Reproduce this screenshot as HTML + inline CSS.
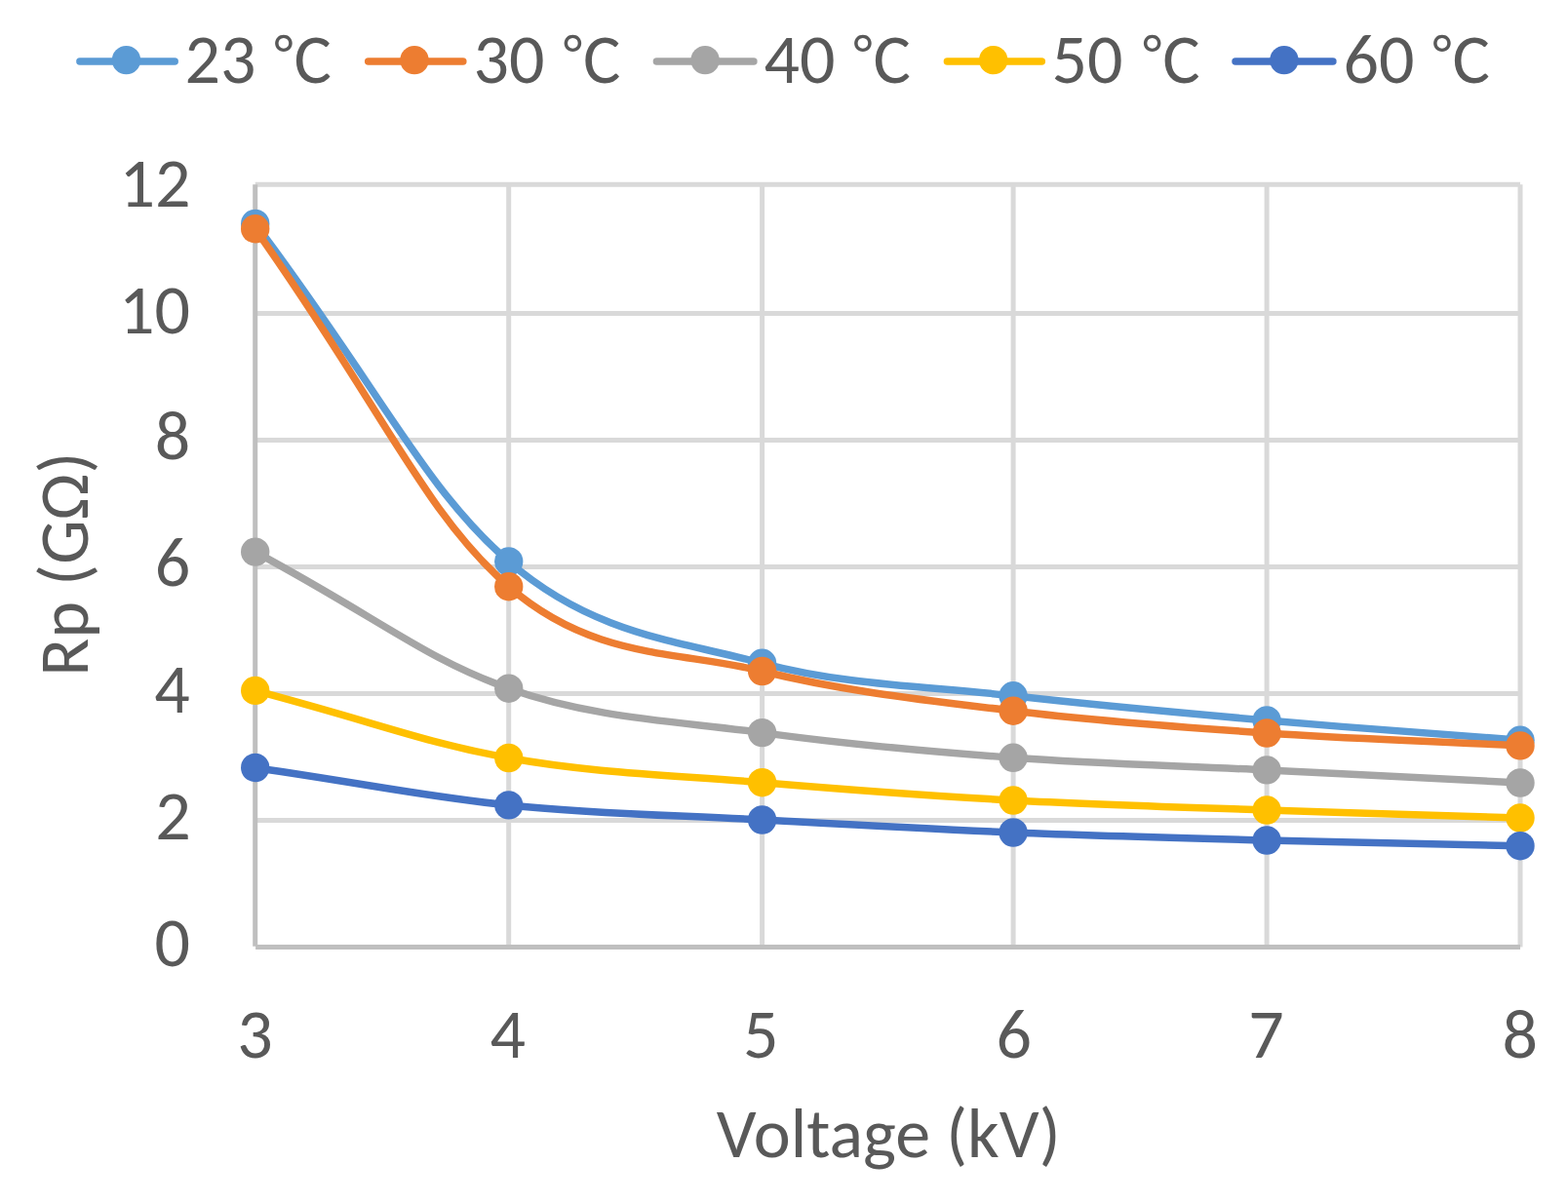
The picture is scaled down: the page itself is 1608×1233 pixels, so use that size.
<!DOCTYPE html>
<html><head><meta charset="utf-8"><title>Rp vs Voltage</title>
<style>
html,body{margin:0;padding:0;background:#fff;}
body{width:1608px;height:1233px;overflow:hidden;}
svg{display:block;}
text{font-family:Carlito, 'Liberation Sans', sans-serif;font-size:72px;fill:#595959;}
</style></head><body>
<svg width="1608" height="1233" viewBox="0 0 1608 1233">
<rect width="1608" height="1233" fill="#fff"/>
<line x1="261.7" y1="189.3" x2="1559" y2="189.3" stroke="#D9D9D9" stroke-width="5"/>
<line x1="261.7" y1="321.4" x2="1559" y2="321.4" stroke="#D9D9D9" stroke-width="5"/>
<line x1="261.7" y1="451.4" x2="1559" y2="451.4" stroke="#D9D9D9" stroke-width="5"/>
<line x1="261.7" y1="581.4" x2="1559" y2="581.4" stroke="#D9D9D9" stroke-width="5"/>
<line x1="261.7" y1="711.4" x2="1559" y2="711.4" stroke="#D9D9D9" stroke-width="5"/>
<line x1="261.7" y1="841.4" x2="1559" y2="841.4" stroke="#D9D9D9" stroke-width="5"/>
<line x1="521.7" y1="189.3" x2="521.7" y2="971.4" stroke="#D9D9D9" stroke-width="5"/>
<line x1="781.6" y1="189.3" x2="781.6" y2="971.4" stroke="#D9D9D9" stroke-width="5"/>
<line x1="1039.1" y1="189.3" x2="1039.1" y2="971.4" stroke="#D9D9D9" stroke-width="5"/>
<line x1="1299.1" y1="189.3" x2="1299.1" y2="971.4" stroke="#D9D9D9" stroke-width="5"/>
<line x1="1559" y1="189.3" x2="1559" y2="971.4" stroke="#D9D9D9" stroke-width="5"/>
<line x1="261.7" y1="189.3" x2="261.7" y2="970.7" stroke="#BFBFBF" stroke-width="5"/>
<line x1="262.1" y1="971.4" x2="1559" y2="971.4" stroke="#BFBFBF" stroke-width="5"/>
<path d="M261.7 229.4 C391.7 402.7 435.05 500.85 521.7 576 C608.35 651.15 695.37 657.33 781.6 680.3 C867.83 703.27 952.85 704.02 1039.1 713.8 C1125.35 723.58 1212.45 731.42 1299.1 739 C1385.75 746.58 1429.05 749.15 1559 759.3" fill="none" stroke="#5B9BD5" stroke-width="7.5" stroke-linejoin="round" stroke-linecap="round"/>
<circle cx="261.7" cy="229.4" r="14.7" fill="#5B9BD5"/>
<circle cx="521.7" cy="576" r="14.7" fill="#5B9BD5"/>
<circle cx="781.6" cy="680.3" r="14.7" fill="#5B9BD5"/>
<circle cx="1039.1" cy="713.8" r="14.7" fill="#5B9BD5"/>
<circle cx="1299.1" cy="739" r="14.7" fill="#5B9BD5"/>
<circle cx="1559" cy="759.3" r="14.7" fill="#5B9BD5"/>
<path d="M261.7 234.8 C391.7 418.25 435.05 526.08 521.7 601.7 C608.35 677.32 695.37 667.25 781.6 688.5 C867.83 709.75 952.85 718.62 1039.1 729.2 C1125.35 739.78 1212.45 746.05 1299.1 752 C1385.75 757.95 1429.05 758.45 1559 764.9" fill="none" stroke="#ED7D31" stroke-width="7.5" stroke-linejoin="round" stroke-linecap="round"/>
<circle cx="261.7" cy="234.8" r="14.7" fill="#ED7D31"/>
<circle cx="521.7" cy="601.7" r="14.7" fill="#ED7D31"/>
<circle cx="781.6" cy="688.5" r="14.7" fill="#ED7D31"/>
<circle cx="1039.1" cy="729.2" r="14.7" fill="#ED7D31"/>
<circle cx="1299.1" cy="752" r="14.7" fill="#ED7D31"/>
<circle cx="1559" cy="764.9" r="14.7" fill="#ED7D31"/>
<path d="M261.7 566.1 C391.7 636.15 435.05 675.28 521.7 706.2 C608.35 737.12 695.37 739.75 781.6 751.6 C867.83 763.45 952.85 770.92 1039.1 777.3 C1125.35 783.68 1212.45 785.62 1299.1 789.9 C1385.75 794.18 1429.05 796.45 1559 803" fill="none" stroke="#A5A5A5" stroke-width="7.5" stroke-linejoin="round" stroke-linecap="round"/>
<circle cx="261.7" cy="566.1" r="14.7" fill="#A5A5A5"/>
<circle cx="521.7" cy="706.2" r="14.7" fill="#A5A5A5"/>
<circle cx="781.6" cy="751.6" r="14.7" fill="#A5A5A5"/>
<circle cx="1039.1" cy="777.3" r="14.7" fill="#A5A5A5"/>
<circle cx="1299.1" cy="789.9" r="14.7" fill="#A5A5A5"/>
<circle cx="1559" cy="803" r="14.7" fill="#A5A5A5"/>
<path d="M261.7 708.4 C391.7 742.95 435.05 761.78 521.7 777.5 C608.35 793.22 695.37 795.45 781.6 802.7 C867.83 809.95 952.85 816.28 1039.1 821 C1125.35 825.72 1212.45 828 1299.1 831 C1385.75 834 1429.05 835 1559 839" fill="none" stroke="#FFC000" stroke-width="7.5" stroke-linejoin="round" stroke-linecap="round"/>
<circle cx="261.7" cy="708.4" r="14.7" fill="#FFC000"/>
<circle cx="521.7" cy="777.5" r="14.7" fill="#FFC000"/>
<circle cx="781.6" cy="802.7" r="14.7" fill="#FFC000"/>
<circle cx="1039.1" cy="821" r="14.7" fill="#FFC000"/>
<circle cx="1299.1" cy="831" r="14.7" fill="#FFC000"/>
<circle cx="1559" cy="839" r="14.7" fill="#FFC000"/>
<path d="M261.7 787.5 C391.7 806.7 435.05 816.98 521.7 825.9 C608.35 834.82 695.37 836.32 781.6 841 C867.83 845.68 952.85 850.5 1039.1 854 C1125.35 857.5 1212.45 859.72 1299.1 862 C1385.75 864.28 1429.05 864.85 1559 867.7" fill="none" stroke="#4472C4" stroke-width="7.5" stroke-linejoin="round" stroke-linecap="round"/>
<circle cx="261.7" cy="787.5" r="14.7" fill="#4472C4"/>
<circle cx="521.7" cy="825.9" r="14.7" fill="#4472C4"/>
<circle cx="781.6" cy="841" r="14.7" fill="#4472C4"/>
<circle cx="1039.1" cy="854" r="14.7" fill="#4472C4"/>
<circle cx="1299.1" cy="862" r="14.7" fill="#4472C4"/>
<circle cx="1559" cy="867.7" r="14.7" fill="#4472C4"/>
<line x1="81.9" y1="63" x2="179.2" y2="63" stroke="#5B9BD5" stroke-width="7.5" stroke-linecap="round"/>
<circle cx="129.5" cy="61.65" r="14.7" fill="#5B9BD5"/>
<line x1="377.7" y1="63" x2="474.8" y2="63" stroke="#ED7D31" stroke-width="7.5" stroke-linecap="round"/>
<circle cx="425" cy="61.65" r="14.7" fill="#ED7D31"/>
<line x1="673.4" y1="63" x2="772.9" y2="63" stroke="#A5A5A5" stroke-width="7.5" stroke-linecap="round"/>
<circle cx="723.1" cy="61.65" r="14.7" fill="#A5A5A5"/>
<line x1="971.4" y1="63" x2="1068.3" y2="63" stroke="#FFC000" stroke-width="7.5" stroke-linecap="round"/>
<circle cx="1018.7" cy="61.65" r="14.7" fill="#FFC000"/>
<line x1="1267" y1="63" x2="1366.9" y2="63" stroke="#4472C4" stroke-width="7.5" stroke-linecap="round"/>
<circle cx="1316.9" cy="61.65" r="14.7" fill="#4472C4"/>
<text><tspan x="189.6" y="84.5" textLength="89.27" lengthAdjust="spacingAndGlyphs">23 </tspan><tspan x="281.2" y="75.3" font-size="57" textLength="19.33" lengthAdjust="spacingAndGlyphs">°</tspan><tspan x="301.4" y="84.5" textLength="38.39" lengthAdjust="spacingAndGlyphs">C</tspan></text>
<text><tspan x="485.4" y="84.5" textLength="89.27" lengthAdjust="spacingAndGlyphs">30 </tspan><tspan x="577.8" y="75.3" font-size="57" textLength="19.33" lengthAdjust="spacingAndGlyphs">°</tspan><tspan x="598" y="84.5" textLength="38.39" lengthAdjust="spacingAndGlyphs">C</tspan></text>
<text><tspan x="783.6" y="84.5" textLength="89.27" lengthAdjust="spacingAndGlyphs">40 </tspan><tspan x="875.2" y="75.3" font-size="57" textLength="19.33" lengthAdjust="spacingAndGlyphs">°</tspan><tspan x="895.4" y="84.5" textLength="38.39" lengthAdjust="spacingAndGlyphs">C</tspan></text>
<text><tspan x="1078.6" y="84.5" textLength="89.27" lengthAdjust="spacingAndGlyphs">50 </tspan><tspan x="1172" y="75.3" font-size="57" textLength="19.33" lengthAdjust="spacingAndGlyphs">°</tspan><tspan x="1192.2" y="84.5" textLength="38.39" lengthAdjust="spacingAndGlyphs">C</tspan></text>
<text><tspan x="1377.6" y="84.5" textLength="89.27" lengthAdjust="spacingAndGlyphs">60 </tspan><tspan x="1469.2" y="75.3" font-size="57" textLength="19.33" lengthAdjust="spacingAndGlyphs">°</tspan><tspan x="1489.4" y="84.5" textLength="38.39" lengthAdjust="spacingAndGlyphs">C</tspan></text>
<text x="176.7" y="991" text-anchor="middle" textLength="36.5" lengthAdjust="spacingAndGlyphs">0</text>
<text x="177.5" y="861.1" text-anchor="middle" textLength="36.5" lengthAdjust="spacingAndGlyphs">2</text>
<text x="176.4" y="731.2" text-anchor="middle" textLength="36.5" lengthAdjust="spacingAndGlyphs">4</text>
<text x="176.9" y="601.3" text-anchor="middle" textLength="36.5" lengthAdjust="spacingAndGlyphs">6</text>
<text x="176.9" y="471.4" text-anchor="middle" textLength="36.5" lengthAdjust="spacingAndGlyphs">8</text>
<text x="158.5" y="341.5" text-anchor="middle" textLength="72.98" lengthAdjust="spacingAndGlyphs">10</text>
<text x="159" y="211.6" text-anchor="middle" textLength="72.98" lengthAdjust="spacingAndGlyphs">12</text>
<text x="261.4" y="1085" text-anchor="middle" textLength="36.5" lengthAdjust="spacingAndGlyphs">3</text>
<text x="520.7" y="1085" text-anchor="middle" textLength="36.5" lengthAdjust="spacingAndGlyphs">4</text>
<text x="780.3" y="1085" text-anchor="middle" textLength="36.5" lengthAdjust="spacingAndGlyphs">5</text>
<text x="1039.7" y="1085" text-anchor="middle" textLength="36.5" lengthAdjust="spacingAndGlyphs">6</text>
<text x="1298.5" y="1085" text-anchor="middle" textLength="36.5" lengthAdjust="spacingAndGlyphs">7</text>
<text x="1558.8" y="1085" text-anchor="middle" textLength="36.5" lengthAdjust="spacingAndGlyphs">8</text>
<text x="911.2" y="1187.3" text-anchor="middle" textLength="352.69" lengthAdjust="spacingAndGlyphs">Voltage (kV)</text>
<text transform="translate(90.1 578.8) rotate(-90)" text-anchor="middle" textLength="230.11" lengthAdjust="spacingAndGlyphs">Rp (GΩ)</text>
</svg>
</body></html>
